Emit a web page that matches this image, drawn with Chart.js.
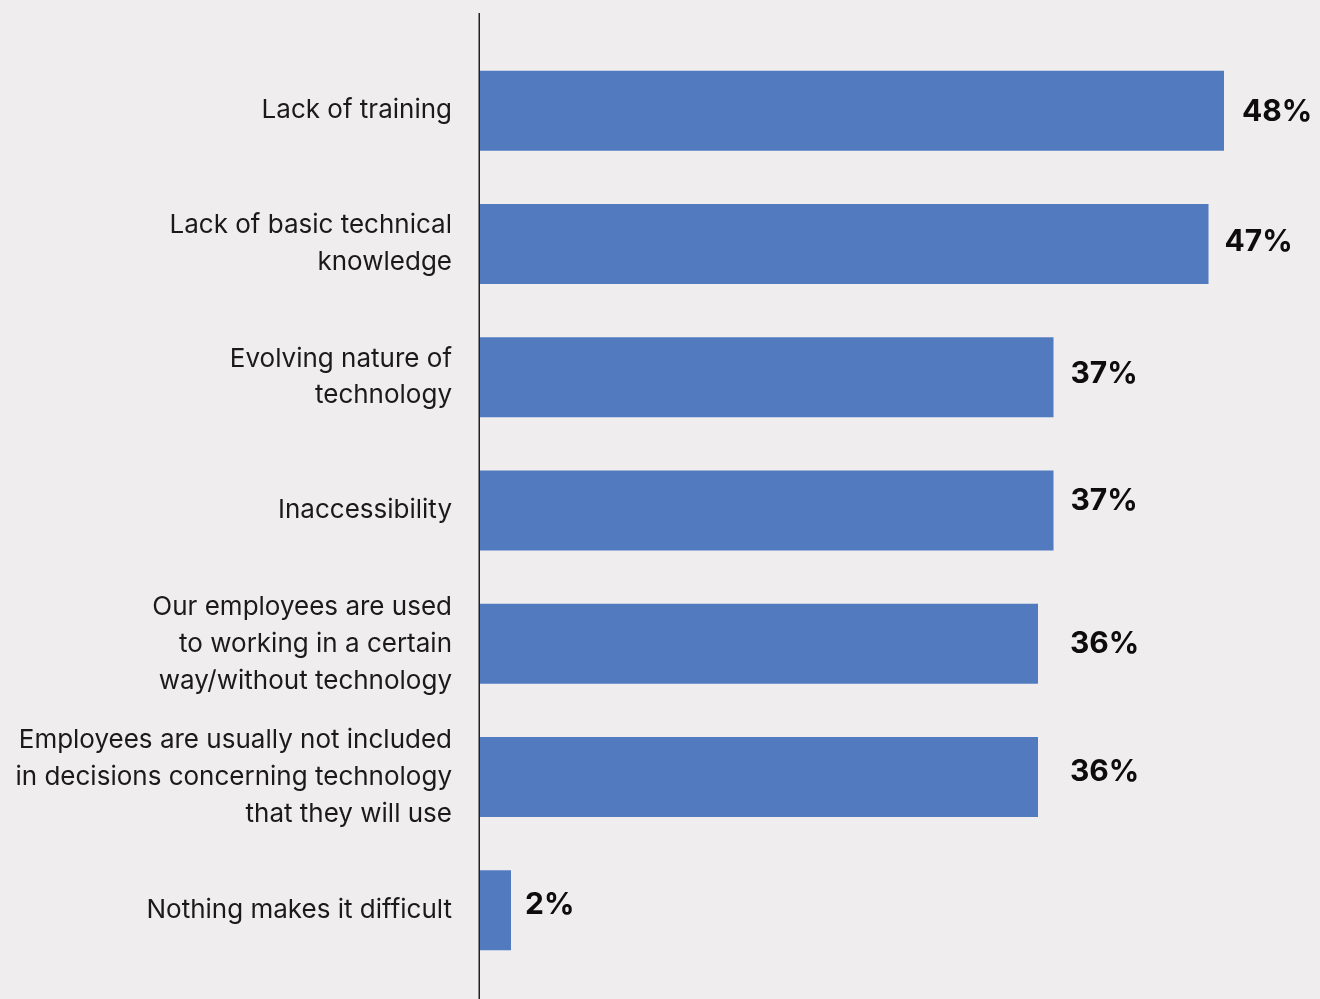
<!DOCTYPE html>
<html>
<head>
<meta charset="utf-8">
<script src="https://cdn.jsdelivr.net/npm/chart.js@4.4.1/dist/chart.umd.min.js"></script>
<style>
  html, body { margin: 0; padding: 0; background: #efedee; }
  #wrap { width: 1320px; height: 999px; }
</style>
</head>
<body>
<div id="wrap"><canvas id="c" width="1320" height="999"></canvas></div>
<script>
const categories = [
  ["Lack of training"],
  ["Lack of basic technical", "knowledge"],
  ["Evolving nature of", "technology"],
  ["Inaccessibility"],
  ["Our employees are used", "to working in a certain", "way/without technology"],
  ["Employees are usually not included", "in decisions concerning technology", "that they will use"],
  ["Nothing makes it difficult"]
];
const values = [48, 47, 37, 37, 36, 36, 2];
const valueLabels = ["48%", "47%", "37%", "37%", "36%", "36%", "2%"];

// label placement styling (offsets from bar end / bar centre)
const labelDx = [18, 16, 17, 17, 32, 32, 14];
const labelDy = [1, -2, -3, -10, 0, -5, -5];

const valueLabelPlugin = {
  id: 'valueLabels',
  afterDatasetsDraw(chart) {
    const ctx = chart.ctx;
    const meta = chart.getDatasetMeta(0);
    ctx.save();
    ctx.font = 'bold 30px Inter, "Noto Sans", sans-serif';
    ctx.fillStyle = '#0d0d0d';
    ctx.textAlign = 'left';
    ctx.textBaseline = 'middle';
    meta.data.forEach((bar, i) => {
      ctx.fillText(valueLabels[i], bar.x + labelDx[i], bar.y + labelDy[i]);
    });
    ctx.restore();
  }
};

const axisLinePlugin = {
  id: 'axisLine',
  afterDraw(chart) {
    const ctx = chart.ctx;
    const a = chart.chartArea;
    ctx.save();
    ctx.strokeStyle = '#222222';
    ctx.lineWidth = 1.5;
    ctx.beginPath();
    ctx.moveTo(a.left - 0.75, 13);
    ctx.lineTo(a.left - 0.75, chart.height);
    ctx.stroke();
    ctx.restore();
  }
};

const bgPlugin = {
  id: 'bg',
  beforeDraw(chart) {
    const ctx = chart.ctx;
    ctx.save();
    ctx.fillStyle = '#efedee';
    ctx.fillRect(0, 0, chart.width, chart.height);
    ctx.restore();
  }
};

new Chart(document.getElementById('c'), {
  type: 'bar',
  data: {
    labels: categories,
    datasets: [{
      data: values,
      backgroundColor: '#527bbf',
      borderWidth: 0,
      categoryPercentage: 1.0,
      barPercentage: 0.6
    }]
  },
  options: {
    indexAxis: 'y',
    responsive: false,
    animation: false,
    layout: { padding: { top: 44, bottom: 22, right: 65, left: 0 } },
    plugins: {
      legend: { display: false },
      tooltip: { enabled: false }
    },
    scales: {
      x: {
        display: false,
        min: 0,
        max: 50
      },
      y: {
        grid: { display: false, drawTicks: false },
        border: { display: false },
        ticks: {
          color: '#1a1a1a',
          font: { family: 'Inter, "Noto Sans", sans-serif', size: 26, lineHeight: 1.42 },
          padding: 28,
          autoSkip: false
        },
        afterFit(scale) {
          scale.width = 480;
          scale.paddingTop = 0;
          scale.paddingBottom = 0;
        }
      }
    }
  },
  plugins: [bgPlugin, valueLabelPlugin, axisLinePlugin]
});
</script>
</body>
</html>
